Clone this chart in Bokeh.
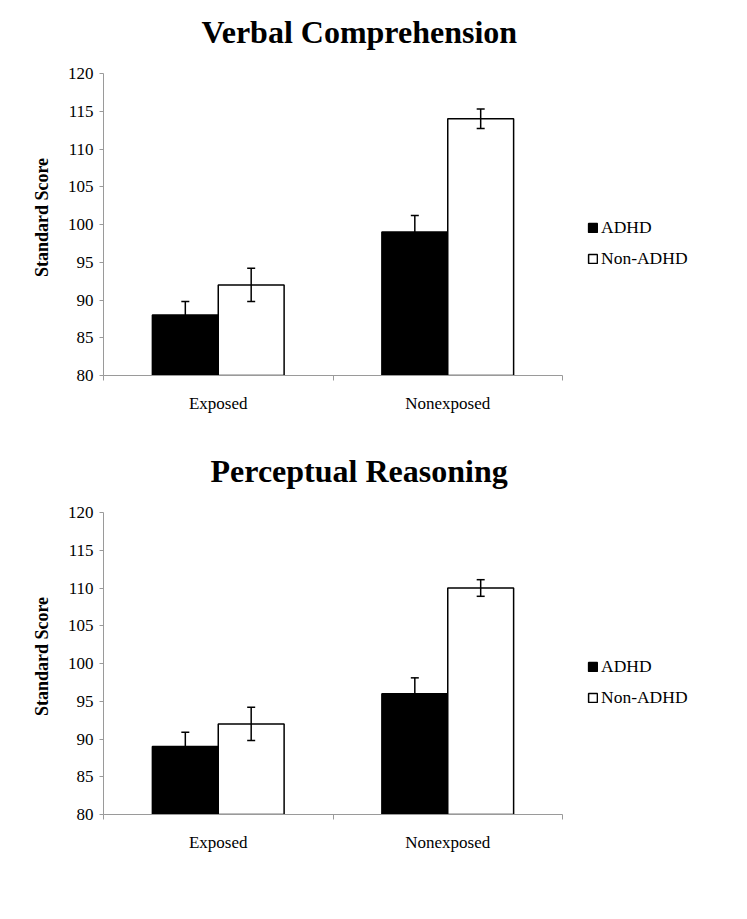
from bokeh.plotting import figure
from bokeh.models import (Range1d, FixedTicker, ColumnDataSource, Whisker, TeeHead,
                          Legend, LegendItem)
from bokeh.layouts import column
from bokeh.embed import file_html
from bokeh.resources import INLINE

categories = ["Exposed", "Nonexposed"]
groups = ["ADHD", "Non-ADHD"]
titles = ["Verbal Comprehension", "Perceptual Reasoning"]

vc_adhd = [88, 99]
vc_adhd_err = [1.8, 2.2]
vc_non = [92, 114]
vc_non_err = [2.2, 1.3]

pr_adhd = [89, 96]
pr_adhd_err = [1.9, 2.1]
pr_non = [92, 110]
pr_non_err = [2.2, 1.1]

y_ticks = [80, 85, 90, 95, 100, 105, 110, 115, 120]

FONT = "Liberation Serif"
AXIS_GRAY = "#9a9a9a"
BAR_W = 0.287
AXIS_PX = 302      # pixel height of the 80-120 axis
TOP_PAD_PX = 14    # blank frame space above the axis top (moves title up)


def make_panel(title, adhd, adhd_err, non, non_err, top, bottom, title_offset):
    y0, y1 = y_ticks[0], y_ticks[-1]
    y_end = y1 + (y1 - y0) * TOP_PAD_PX / AXIS_PX
    p = figure(frame_width=459, frame_height=AXIS_PX + TOP_PAD_PX,
               x_range=Range1d(0, len(categories)), y_range=Range1d(y0, y_end),
               output_backend="svg", toolbar_location=None,
               min_border_left=103, min_border_right=176,
               min_border_top=top, min_border_bottom=bottom)
    p.outline_line_color = None
    p.xgrid.visible = False
    p.ygrid.visible = False

    p.title.text = title
    p.title.align = "left"
    p.title.vertical_align = "bottom"
    p.title.offset = title_offset
    p.title.standoff = 20
    p.title.text_font = FONT
    p.title.text_font_size = "32px"
    p.title.text_font_style = "bold"
    p.title.text_color = "black"

    centers = [i + 0.5 for i in range(len(categories))]
    specs = [(adhd, adhd_err, -BAR_W / 2, "black"), (non, non_err, BAR_W / 2, "white")]
    renderers = []
    for vals, errs, off, color in specs:
        src = ColumnDataSource(dict(
            x=[c + off for c in centers], top=vals,
            upper=[v + e for v, e in zip(vals, errs)],
            lower=[v - e for v, e in zip(vals, errs)]))
        r = p.vbar(x="x", top="top", bottom=y0, width=BAR_W, source=src,
                   fill_color=color, line_color="black", line_width=1.5)
        renderers.append(r)
        w = Whisker(base="x", upper="upper", lower="lower", source=src,
                    line_color="black", line_width=1.5, level="overlay",
                    upper_head=TeeHead(size=8, line_width=1.5, line_color="black"),
                    lower_head=TeeHead(size=8, line_width=1.5, line_color="black"))
        p.add_layout(w)

    # y axis
    p.yaxis.bounds = (y0, y1)
    p.yaxis.ticker = FixedTicker(ticks=y_ticks)
    p.yaxis.axis_label = "Standard Score"
    p.yaxis.axis_label_text_font = FONT
    p.yaxis.axis_label_text_font_size = "18px"
    p.yaxis.axis_label_text_font_style = "bold"
    p.yaxis.axis_label_text_color = "black"
    p.yaxis.axis_label_standoff = 13
    p.yaxis.major_label_text_font = FONT
    p.yaxis.major_label_text_font_size = "17px"
    p.yaxis.major_label_text_color = "black"
    p.yaxis.axis_line_color = AXIS_GRAY
    p.yaxis.major_tick_line_color = AXIS_GRAY
    p.yaxis.major_tick_in = 0
    p.yaxis.major_tick_out = 4
    p.yaxis.minor_tick_line_color = None
    p.yaxis.major_label_standoff = 6

    # x axis: labels at category centers, ticks at category boundaries
    p.xaxis.ticker = FixedTicker(ticks=centers,
                                 minor_ticks=list(range(len(categories) + 1)))
    p.xaxis.major_label_overrides = {c: name for c, name in zip(centers, categories)}
    p.xaxis.major_label_text_font = FONT
    p.xaxis.major_label_text_font_size = "17px"
    p.xaxis.major_label_text_color = "black"
    p.xaxis.axis_line_color = AXIS_GRAY
    p.xaxis.major_tick_line_color = None
    p.xaxis.major_tick_in = 0
    p.xaxis.major_tick_out = 0
    p.xaxis.minor_tick_line_color = AXIS_GRAY
    p.xaxis.minor_tick_in = 0
    p.xaxis.minor_tick_out = 5
    p.xaxis.major_label_standoff = 13

    legend = Legend(items=[LegendItem(label=g, renderers=[r]) for g, r in zip(groups, renderers)],
                    location=(25, 106), border_line_color=None, background_fill_alpha=0,
                    padding=0, margin=0, spacing=10, label_height=20,
                    glyph_width=11, glyph_height=11, label_standoff=3,
                    label_text_font=FONT, label_text_font_size="17.5px",
                    label_text_color="black")
    p.add_layout(legend, "right")
    return p


p1 = make_panel(titles[0], vc_adhd, vc_adhd_err, vc_non, vc_non_err, 59, 64, 98)
p2 = make_panel(titles[1], pr_adhd, pr_adhd_err, pr_non, pr_non_err, 59, 71, 107)
layout = column(p1, p2, spacing=0)

open("out.html", "w").write(file_html(layout, INLINE))
